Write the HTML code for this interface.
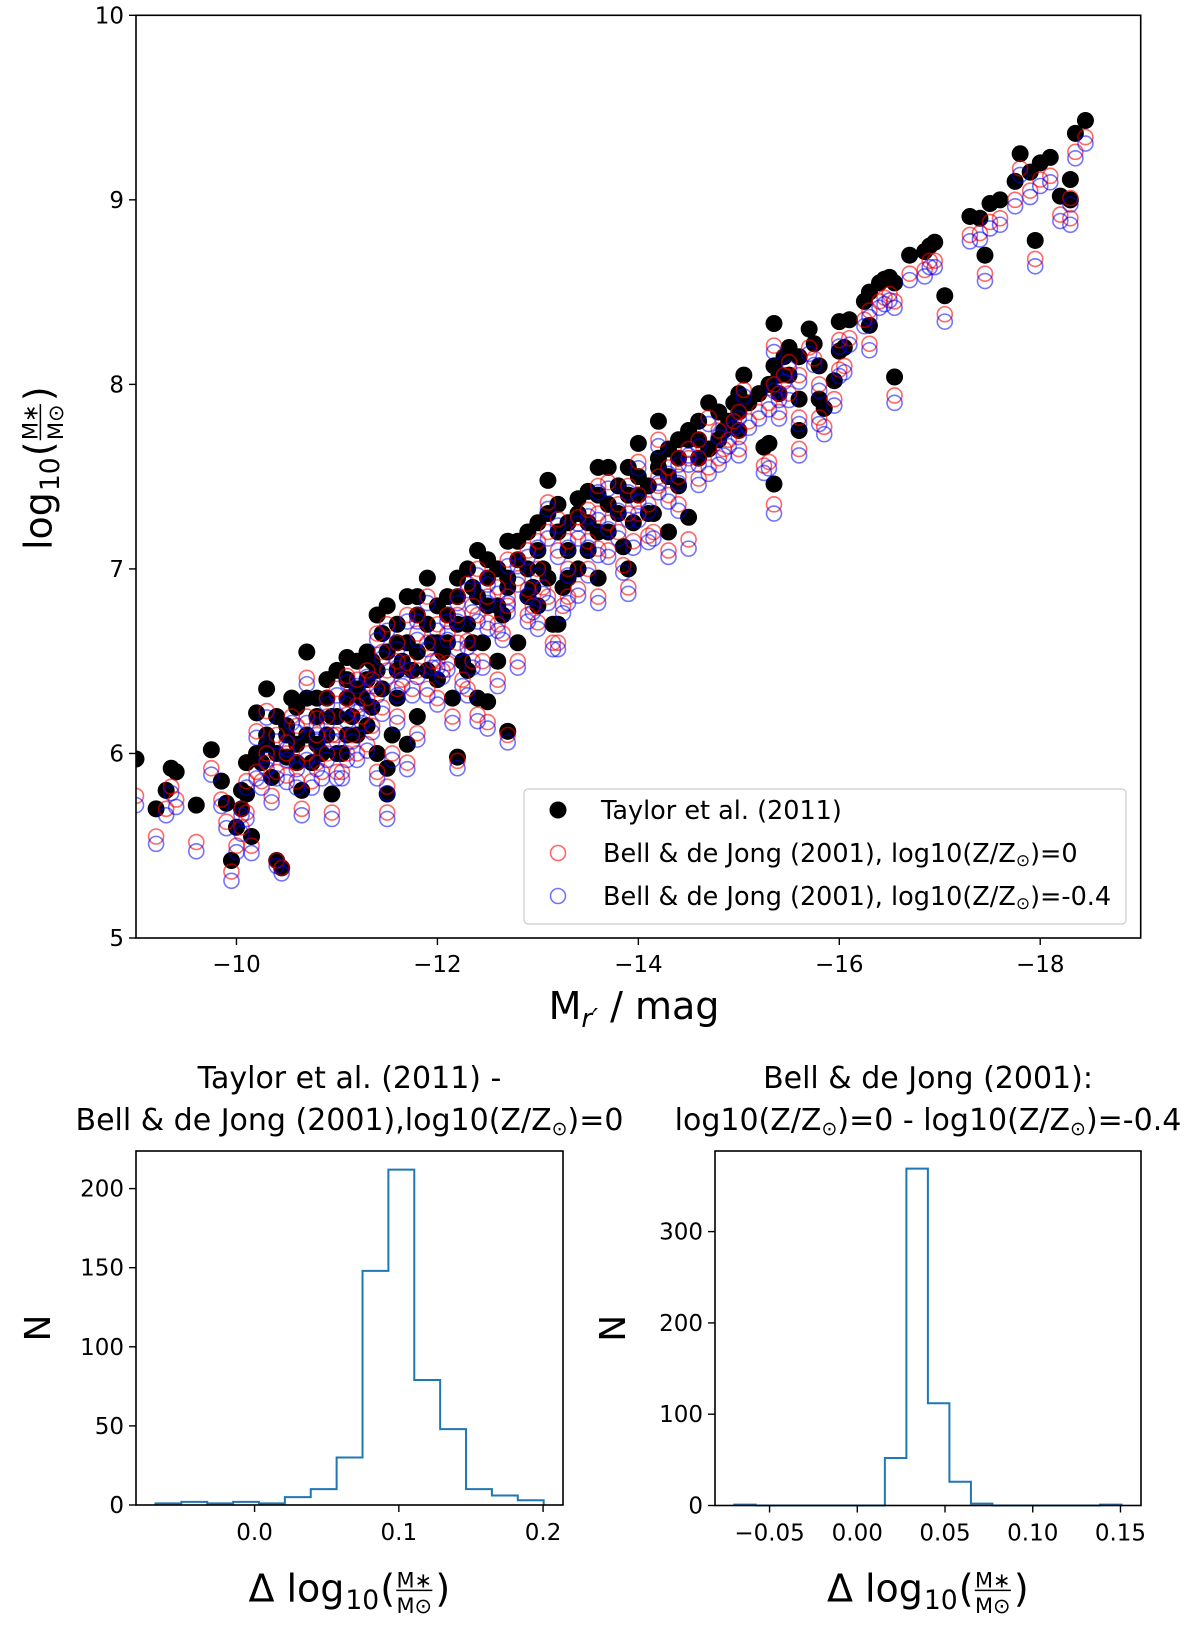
<!DOCTYPE html>
<html><head><meta charset="utf-8"><style>
html,body{margin:0;padding:0;background:#fff}
svg{display:block;font-family:"DejaVu Sans","Liberation Sans",sans-serif}
</style></head><body>
<svg id="fig" width="1200" height="1627" viewBox="0 0 1200 1627" xmlns="http://www.w3.org/2000/svg">
<rect width="1200" height="1627" fill="#fff"/>
<g id="main"></g>
<g id="h1"></g>
<g id="h2"></g>
</svg>
<script>
// ---- scatter data ----
const magR = [
-18.45,-18.35,-18.3,-18.2,-18.3,-17.95,-17.8,-18.0,-18.1,-17.9,
-17.75,-17.6,-17.5,-17.45,-17.4,-17.3,-17.05,-16.95,-16.9,-16.85,
-16.7,-16.55,-16.55,-16.5,-16.45,-16.4,-16.3,-16.3,-16.25,-16.1,
-16.0,-16.05,-15.95,-15.85,-15.8,-15.75,-15.7,-15.6,-15.6,-15.5,
-15.45,-15.4,-15.35,-15.35,-15.3,-15.25,-15.35,-15.3,-15.1,-15.05,
-15.0,-14.95,-14.85,-14.8,-14.7,-14.6,-14.5,-14.5,-14.4,-14.3,
-14.2,-14.15,-14.1,-14.0,-13.95,-13.9,-13.85,-13.8,-13.7,-13.6,
-13.5,-13.5,-13.4,-13.3,-13.2,-13.1,-13.0,-12.9,-13.1,-13.25,
-13.15,-12.8,-12.7,-12.7,-12.6,-12.5,-12.4,-12.3,-12.2,-12.1,
-12.2,-12.0,-11.9,-11.8,-11.7,-11.6,-11.5,-11.45,-11.4,-11.35,
-11.3,-11.2,-11.1,-11.0,-10.9,-10.8,-10.7,-10.6,-10.5,-10.4,
-10.3,-10.2,-10.1,-10.05,-10.0,-9.95,-10.4,-10.45,-10.35,-9.75,
-9.6,-9.4,-9.35,-9.3,-9.2,-9.0,-10.15,-10.05,-9.85,-10.65,
-10.95,-11.5,-11.5,-11.7,-12.4,-12.5,-11.0,-11.2,-10.8,-10.6,
-11.4,-11.8,-12.0,-12.3,-12.1,-12.6,-12.8,-13.0,-13.2,-13.6,
-13.9,-14.3,-12.9,-13.4,-11.6,-11.3,-11.1,-10.9,-10.7,-10.5,
-10.3,-11.9,-12.2,-12.5,-11.6,-11.1,-13.7,-14.0,-14.6,-15.0,
-14.2,-13.6,-15.6,-15.8,-16.0,-14.5,-10.2,-10.1,-9.9,-12.7,
-11.8,-11.25,-10.95,-12.35,-13.3,-14.4,
-10.3,-10.4,-10.5,-10.6,-10.7,-10.8,-10.9,-11.0,-11.1,-11.2,
-11.3,-11.4,-11.5,-11.6,-11.7,-11.8,-11.9,-12.0,-12.1,-12.2,
-12.3,-12.4,-12.5,-12.6,-12.7,-12.8,-12.9,-13.0,-13.1,-13.2,
-13.3,-13.4,-13.5,-13.6,-13.7,-13.8,-13.9,-14.0,-14.1,-14.2,
-14.3,-14.4,-14.6,-14.7,-14.8,-14.9,-15.0,-15.2,-15.4,-15.5,
-10.25,-10.55,-10.85,-11.15,-11.45,-11.75,-12.05,-12.35,-12.65,-12.95,
-11.05,-11.35,-11.65,-11.95,-12.25,-10.75,-11.55,-12.15,-12.45,-13.05];
const massTaylor = [
9.43,9.36,9.11,9.02,9.0,8.78,9.25,9.2,9.23,9.15,
9.1,9.0,8.98,8.7,8.9,8.91,8.48,8.77,8.75,8.72,
8.7,8.04,8.55,8.58,8.57,8.55,8.5,8.32,8.45,8.35,
8.34,8.2,8.02,7.87,7.92,8.22,8.3,8.15,7.92,8.2,
8.15,8.05,8.1,8.33,8.0,7.66,7.46,7.68,7.9,8.05,
7.95,7.9,7.75,7.85,7.9,7.8,7.75,7.28,7.7,7.65,
7.6,7.3,7.3,7.68,7.25,7.55,7.12,7.45,7.55,7.4,
7.42,7.1,7.38,7.25,7.35,7.3,7.25,7.2,7.48,6.9,
6.7,7.05,7.15,6.12,7.0,6.95,7.1,7.0,6.95,6.85,
5.98,6.8,6.95,6.75,6.85,6.6,6.8,6.65,6.75,6.5,
6.4,6.5,6.52,6.45,6.3,6.2,6.55,6.25,6.1,6.2,
6.35,6.22,5.95,5.8,5.6,5.42,5.42,5.38,5.87,6.02,
5.72,5.9,5.92,5.8,5.7,5.97,5.55,5.7,5.85,5.8,
5.78,5.92,5.78,6.05,6.3,6.28,6.0,6.1,6.05,5.95,
6.0,6.2,6.4,6.45,6.6,6.5,6.6,6.8,6.7,6.95,
7.0,7.2,6.85,7.0,6.3,6.15,6.3,6.1,6.3,5.98,
6.05,6.45,6.7,6.8,6.45,6.1,7.2,7.4,7.6,7.75,
7.8,7.55,7.75,8.1,8.18,7.7,6.0,5.78,5.73,6.9,
6.55,6.3,6.2,6.6,6.95,7.45,
6.1,6.0,6.15,6.05,6.1,6.3,6.4,6.2,6.4,6.35,
6.55,6.45,6.55,6.7,6.6,6.85,6.7,6.6,6.75,6.85,
6.7,6.85,7.05,6.8,6.95,7.15,7.0,7.1,6.95,7.2,
7.1,7.3,7.25,7.2,7.35,7.3,7.4,7.5,7.45,7.55,
7.5,7.6,7.7,7.65,7.7,7.8,7.85,7.95,7.95,8.05,
5.95,6.3,6.0,6.2,6.35,6.45,6.55,6.9,6.75,6.9,
6.0,6.25,6.5,6.6,6.5,5.95,6.1,6.3,6.6,7.0];
const deltaTaylorBell = [
0.09,0.1,0.1,0.1,0.1,0.1,0.08,0.09,0.1,0.1,
0.1,0.1,0.1,0.1,0.08,0.1,0.1,0.1,0.08,0.1,
0.1,0.1,0.1,0.09,0.1,0.1,0.1,0.1,0.1,0.1,
0.1,0.1,0.1,0.1,0.1,0.08,0.1,0.1,0.1,0.08,
0.1,0.1,0.1,0.12,0.1,0.1,0.11,0.1,0.1,0.08,
0.1,0.1,0.1,0.1,0.08,0.1,0.1,0.12,0.1,0.1,
0.1,0.1,0.12,0.1,0.1,0.1,0.1,0.1,0.08,0.1,
0.1,0.1,0.1,0.1,0.08,0.1,0.1,0.1,0.12,0.1,
0.1,0.1,0.1,0.02,0.1,0.1,0.1,0.08,0.1,0.1,
0.02,0.1,0.1,0.1,0.1,0.1,0.1,0.1,0.1,0.1,
0.1,0.1,0.1,0.1,0.1,0.1,0.14,0.1,0.1,0.1,
0.12,0.1,0.1,0.1,0.1,0.06,0.0,0.0,0.1,0.1,
0.2,0.15,0.1,0.1,0.15,0.2,0.05,0.1,0.1,0.1,
0.1,0.1,0.1,0.1,0.09,0.11,0.1,0.1,0.1,0.1,
0.1,0.09,0.1,0.1,0.11,0.1,0.1,0.09,0.1,0.1,
0.1,0.1,0.1,0.11,0.1,0.1,0.09,0.1,0.1,0.1,
0.1,0.1,0.1,0.09,0.1,0.1,0.1,0.1,0.11,0.1,
0.1,0.1,0.1,0.1,0.1,0.1,0.1,0.1,0.1,0.1,
0.1,0.1,0.1,0.1,0.1,0.1,
0.1,0.1,0.09,0.1,0.1,0.11,0.1,0.1,0.1,0.09,
0.1,0.1,0.1,0.1,0.11,0.1,0.1,0.1,0.1,0.1,
0.09,0.1,0.1,0.1,0.1,0.1,0.11,0.1,0.1,0.1,
0.1,0.1,0.1,0.09,0.1,0.1,0.1,0.1,0.1,0.1,
0.1,0.1,0.1,0.1,0.1,0.1,0.1,0.1,0.1,0.1,
0.1,0.1,0.1,0.1,0.1,0.1,0.1,0.1,0.1,0.1,
0.1,0.1,0.1,0.1,0.1,0.1,0.1,0.1,0.1,0.1];
const deltaMetal = [
0.035,0.035,0.035,0.035,0.035,0.04,0.035,0.035,0.035,0.035,
0.035,0.035,0.035,0.04,0.035,0.035,0.04,0.035,0.035,0.035,
0.035,0.04,0.035,0.035,0.035,0.035,0.035,0.035,0.035,0.035,
0.035,0.035,0.035,0.04,0.035,0.035,0.035,0.035,0.035,0.035,
0.035,0.035,0.035,0.035,0.035,0.04,0.05,0.035,0.035,0.035,
0.035,0.035,0.035,0.035,0.035,0.035,0.035,0.05,0.035,0.035,
0.035,0.035,0.035,0.035,0.035,0.035,0.04,0.035,0.035,0.035,
0.035,0.035,0.035,0.035,0.035,0.035,0.035,0.035,0.035,0.04,
0.035,0.035,0.035,0.04,0.035,0.035,0.035,0.035,0.035,0.035,
0.04,0.035,0.035,0.035,0.035,0.035,0.035,0.035,0.035,0.035,
0.035,0.035,0.035,0.035,0.035,0.035,0.035,0.035,0.035,0.035,
0.035,0.035,0.035,0.035,0.035,0.05,0.03,0.03,0.035,0.035,
0.05,0.04,0.035,0.035,0.04,0.05,0.04,0.035,0.035,0.035,
0.035,0.035,0.035,0.035,0.035,0.035,0.035,0.035,0.035,0.035,
0.035,0.035,0.035,0.035,0.035,0.035,0.035,0.035,0.035,0.035,
0.035,0.035,0.035,0.035,0.035,0.035,0.035,0.035,0.035,0.035,
0.035,0.035,0.035,0.035,0.035,0.035,0.035,0.035,0.035,0.035,
0.035,0.035,0.035,0.035,0.035,0.035,0.035,0.035,0.035,0.035,
0.035,0.035,0.035,0.035,0.035,0.035,
0.035,0.035,0.035,0.035,0.035,0.035,0.035,0.035,0.035,0.035,
0.035,0.035,0.035,0.035,0.035,0.035,0.035,0.035,0.035,0.035,
0.035,0.035,0.035,0.035,0.035,0.035,0.035,0.035,0.035,0.035,
0.035,0.035,0.035,0.035,0.035,0.035,0.035,0.035,0.035,0.035,
0.035,0.035,0.035,0.035,0.035,0.035,0.035,0.035,0.035,0.035,
0.035,0.035,0.035,0.035,0.035,0.035,0.035,0.035,0.035,0.035,
0.035,0.035,0.035,0.035,0.035,0.035,0.035,0.035,0.035,0.035];
const xTicks = [-10,-12,-14,-16,-18];
const yTicks = [5,6,7,8,9,10];
// ---- histogram 1 data ----
const h1Counts = [1,2,1,2,1,5,10,30,148,212,79,48,10,6,3];
const h1Start = -0.0687, h1Width = 0.01794;
const h1XTicks = [0.0,0.1,0.2];
const h1XLabels = ["0.0","0.1","0.2"];
const h1YTicks = [0,50,100,150,200];
// ---- histogram 2 data ----
const h2Counts = [1,0,0,0,0,0,0,52,369,112,26,2,0,0,0,0,0,1];
const h2Start = -0.0701, h2Width = 0.01226;
const h2XTicks = [-0.05,0,0.05,0.10,0.15];
const h2XLabels = ["\u22120.05","0.00","0.05","0.10","0.15"];
const h2YTicks = [0,100,200,300];

const NS = "http://www.w3.org/2000/svg";
function mk(parent, tag, attrs, text){
  const e = document.createElementNS(NS, tag);
  for (const k in attrs) e.setAttribute(k, attrs[k]);
  if (text !== undefined) e.textContent = text;
  parent.appendChild(e); return e;
}
const neg = v => (v<0 ? "\u2212"+String(Math.abs(v)) : String(v));
const TF = 23;

// ===== main scatter =====
const main = document.getElementById('main');
const L=136,R=1140.7,T=15.3,B=938;
const X0=-9,X1=-19,Y0=5,Y1=10;
const sx = v => L + (v-X0)/(X1-X0)*(R-L);
const sy = v => B - (v-Y0)/(Y1-Y0)*(B-T);
const clipD = mk(main,'clipPath',{id:'mclip'});
mk(clipD,'rect',{x:L,y:T,width:R-L,height:B-T});
const pts = mk(main,'g',{'clip-path':'url(#mclip)'});
for (let i=0;i<magR.length;i++){
  const c = mk(pts,'circle',{cx:sx(magR[i]),cy:sy(massTaylor[i]),r:8.5,fill:'#000'});
  
  
}
for (let i=0;i<magR.length;i++){
  const c = mk(pts,'circle',{cx:sx(magR[i]),cy:sy(massTaylor[i]-deltaTaylorBell[i]),r:7.5,fill:'none',stroke:'rgba(255,0,0,0.6)','stroke-width':1.6});
  
  
}
for (let i=0;i<magR.length;i++){
  const c = mk(pts,'circle',{cx:sx(magR[i]),cy:sy(massTaylor[i]-deltaTaylorBell[i]-deltaMetal[i]),r:7.5,fill:'none',stroke:'rgba(0,0,255,0.55)','stroke-width':1.6});
  
  
}
const frame = mk(main,'rect',{x:L,y:T,width:R-L,height:B-T,fill:'none',stroke:'#000','stroke-width':1.6});


xTicks.forEach(t=>{
  mk(main,'line',{x1:sx(t),x2:sx(t),y1:B,y2:B+7,stroke:'#000','stroke-width':1.4});
  const tx = mk(main,'text',{x:sx(t),y:B+34,'font-size':TF,'text-anchor':'middle'},neg(t));
  
  
});
yTicks.forEach(t=>{
  mk(main,'line',{x1:L-7,x2:L,y1:sy(t),y2:sy(t),stroke:'#000','stroke-width':1.4});
  const tx = mk(main,'text',{x:L-12,y:sy(t)+8,'font-size':TF,'text-anchor':'end'},String(t));
  
  
});
const xl = mk(main,'text',{x:634,y:1019,'font-size':38,'text-anchor':'middle'});


xl.innerHTML = 'M<tspan font-size="26" font-style="italic" dy="8">r\u2032</tspan><tspan dy="-8"> / mag</tspan>';

function massLabel(parent, cx, cy, rot, size, prefix, name){
  const g = mk(parent,'g',{transform:`translate(${cx},${cy}) rotate(${rot})`});
  
  
  const inner = mk(g,'g',{});
  let x = 0;
  if (prefix){ mk(inner,'text',{x:0,y:0,'font-size':size},'\u0394'); x += size*1.0; }
  mk(inner,'text',{x:x,y:0,'font-size':size},'log'); x += size*1.55;
  mk(inner,'text',{x:x,y:size*0.2,'font-size':size*0.7},'10'); x += size*0.92;
  mk(inner,'text',{x:x,y:0,'font-size':size},'('); x += size*0.42;
  const fw = size*0.95;
  mk(inner,'text',{x:x+fw/2,y:-size*0.36,'font-size':size*0.55,'text-anchor':'middle'},'M\u2217');
  mk(inner,'line',{x1:x,x2:x+fw,y1:-size*0.29,y2:-size*0.29,stroke:'#000','stroke-width':1.5});
  mk(inner,'text',{x:x+fw/2,y:size*0.3,'font-size':size*0.55,'text-anchor':'middle'},'M\u2299');
  x += fw + 3;
  mk(inner,'text',{x:x,y:0,'font-size':size},')'); x += size*0.4;
  inner.setAttribute('transform',`translate(${-x/2},${size*0.3})`);
}
massLabel(main, 40, 468, -90, 38, '', 'y-axis-title');
// legend
const lg = mk(main,'g',{});


mk(lg,'rect',{x:524,y:789,width:602,height:135,rx:4,fill:'#fff','fill-opacity':0.85,stroke:'#ccc','stroke-width':1.2});
const e1 = mk(lg,'g',{});  
mk(e1,'circle',{cx:558,cy:810,r:8.5,fill:'#000'});
mk(e1,'text',{x:601,y:819,'font-size':25.5},'Taylor et al. (2011)');
const e2 = mk(lg,'g',{});  
mk(e2,'circle',{cx:558,cy:853,r:7.5,fill:'none',stroke:'rgba(255,0,0,0.6)','stroke-width':1.6});
mk(e2,'text',{x:603,y:862,'font-size':25.5}).innerHTML='Bell &amp; de Jong (2001), log10(Z/Z<tspan font-size="17" dy="4">\u2299</tspan><tspan dy="-4">)=0</tspan>';
const e3 = mk(lg,'g',{});  
mk(e3,'circle',{cx:558,cy:896,r:7.5,fill:'none',stroke:'rgba(0,0,255,0.55)','stroke-width':1.6});
mk(e3,'text',{x:603,y:905,'font-size':25.5}).innerHTML='Bell &amp; de Jong (2001), log10(Z/Z<tspan font-size="17" dy="4">\u2299</tspan><tspan dy="-4">)=-0.4</tspan>';

// ===== histograms =====
function hist(g, counts, start, width, box, xlim, ylimTop, xt, xlab, yt, title1, title2, nX){
  const [l,t,r,b] = box;
  const fx = v => l + (v-xlim[0])/(xlim[1]-xlim[0])*(r-l);
  const fy = v => b - v/ylimTop*(b-t);
  let d = `M${fx(start)},${fy(0)}`;
  counts.forEach((c,i)=>{
    d += ` L${fx(start+i*width)},${fy(c)} L${fx(start+(i+1)*width)},${fy(c)}`;
  });
  d += ` L${fx(start+counts.length*width)},${fy(0)}`;
  const p = mk(g,'path',{d:d,fill:'none',stroke:'#1f77b4','stroke-width':2});
  
  
  const fr = mk(g,'rect',{x:l,y:t,width:r-l,height:b-t,fill:'none',stroke:'#000','stroke-width':1.6});
  
  
  xt.forEach((v,i)=>{
    mk(g,'line',{x1:fx(v),x2:fx(v),y1:b,y2:b+7,stroke:'#000','stroke-width':1.4});
    const tx = mk(g,'text',{x:fx(v),y:b+35,'font-size':TF,'text-anchor':'middle'},xlab[i]);
    
    
  });
  yt.forEach(v=>{
    mk(g,'line',{x1:l-7,x2:l,y1:fy(v),y2:fy(v),stroke:'#000','stroke-width':1.4});
    const tx = mk(g,'text',{x:l-12,y:fy(v)+8,'font-size':TF,'text-anchor':'end'},String(v));
    
    
  });
  const cx=(l+r)/2;
  const tt = mk(g,'text',{x:cx,y:1090,'font-size':30,'text-anchor':'middle'});
  
  
  tt.innerHTML = `<tspan x="${cx}" y="1088">${title1}</tspan><tspan x="${cx}" y="1130">${title2}</tspan>`;
  const n = mk(g,'text',{transform:`translate(${nX},${(t+b)/2}) rotate(-90)`,'font-size':36,'text-anchor':'middle'},'N');
  
  
  massLabel(g, cx, 1590, 0, 38, '\u0394', 'hist-x-axis-title');
}
const SUN = '<tspan font-size="19" dy="5">\u2299</tspan><tspan dy="-5">';
hist(document.getElementById('h1'), h1Counts, h1Start, h1Width, [136,1151,563,1505], [-0.0822,0.2138], (1505-1151)/1.582,
  h1XTicks, h1XLabels, h1YTicks, 'Taylor et al. (2011) -', 'Bell &amp; de Jong (2001),log10(Z/Z'+SUN+')=0</tspan>', 50);
hist(document.getElementById('h2'), h2Counts, h2Start, h2Width, [715,1151,1141,1505.5], [-0.0811,0.1617], (1505.5-1151)/0.913,
  h2XTicks, h2XLabels, h2YTicks, 'Bell &amp; de Jong (2001):', 'log10(Z/Z'+SUN+')=0 - log10(Z/Z</tspan>'+SUN+')=-0.4</tspan>', 625);
</script>
</body></html>
